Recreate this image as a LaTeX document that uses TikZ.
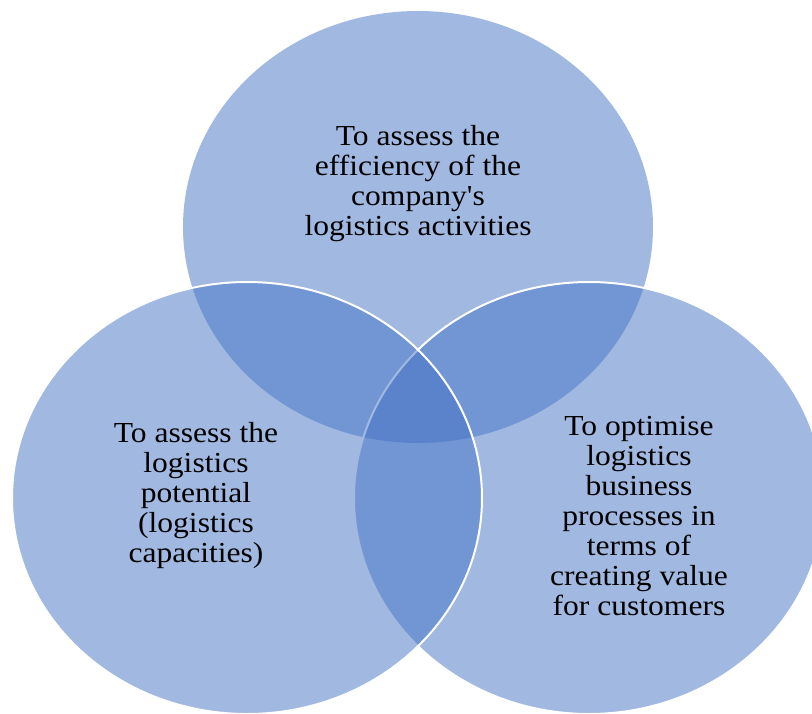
\documentclass[tikz,border=0pt]{standalone}
\usepackage{fontspec}
\setmainfont[FakeStretch=1.088,Ligatures=TeXOff]{Liberation Serif}
\definecolor{vennblue}{RGB}{68,114,196}
\begin{document}
\begin{tikzpicture}[x=1pt,y=-1pt,
  vennfill/.style={fill=vennblue,fill opacity=0.5},
  vennline/.style={draw=white,line width=2pt},
  venntext/.style={align=center,inner sep=0pt,text=black,font=\fontsize{29}{30}\selectfont}]
\useasboundingbox (0,0) rectangle (812,713);
\clip (0,0) rectangle (812,713);
% top circle
\fill[vennfill] (418,227) ellipse [x radius=235, y radius=216];
% bottom-right circle
\path[vennfill,vennline] (589,498) ellipse [x radius=235, y radius=216];
% bottom-left circle
\path[vennfill,vennline] (247,498) ellipse [x radius=235, y radius=216];
\node[venntext] (top) at (418,184) {To assess the\\efficiency of the\\company's\\logistics activities};
\node[venntext] (left) at (196,496) {To assess the\\logistics\\potential\\(logistics\\capacities)};
\node[venntext] (right) at (639,516) {To optimise\\logistics\\business\\processes in\\terms of\\creating value\\for customers};
\end{tikzpicture}
\end{document}
